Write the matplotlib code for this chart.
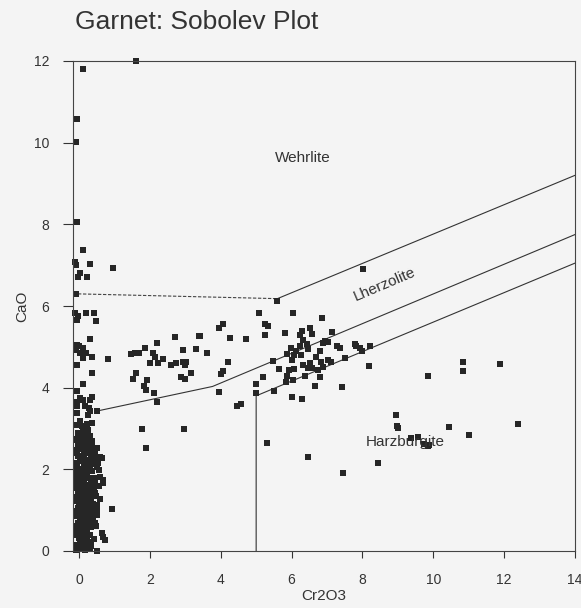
#!/usr/bin/env python3
"""Garnet Sobolev plot: CaO vs Cr2O3 with the Wehrlite / Lherzolite / Harzburgite fields."""

import matplotlib
matplotlib.use("Agg")
import matplotlib.pyplot as plt

# --- garnet analyses (Cr2O3, CaO wt%) ---
# scattered points away from the Cr-poor column
cr2o3 = [
    1.62, 0.10, -0.06, -0.08, -0.05, 0.12, -0.11, -0.08, 0.31, 0.03, -0.04, 0.23, 0.97,
    -0.08, -0.11, -0.02, 0.20, 0.43, 0.47, -0.06, 0.31, -0.06, 0.01, -0.08, 0.12, 0.20,
    0.03, 0.37, 0.83, -0.06, 0.10, 0.36, 0.12, -0.05, 0.03, -0.05, 0.12, 0.31, 0.36,
    -0.05, 0.17, 0.29, 0.31, 0.26, 0.52, -0.05, 0.03, -0.05, 0.08, 0.22, 0.36, 0.17, 0.26,
    1.46, 1.58, 1.70, 1.86, 2.19, 2.09, 2.14, 2.00, 2.23, 2.37, 2.71, 3.39, 2.61, 2.73,
    1.61, 1.53, 1.91, 1.83, 1.89, 2.12, 2.21, 1.77, 2.97, 1.89,
    5.60, 5.07, 6.05, 6.87, 4.05, 3.95, 5.26, 5.33, 3.41, 4.27, 4.71, 5.26, 5.82,
    6.53, 6.29, 6.23, 6.57, 6.32, 6.44, 6.23, 7.15, 6.95, 7.04, 6.88, 7.27, 7.37,
    7.78, 7.82, 7.92, 7.99, 8.22, 8.19, 2.93, 3.30, 3.61, 2.94, 3.03, 2.99, 3.17,
    2.89, 3.00, 4.21, 4.06, 4.02, 3.95, 4.56, 4.46, 5.31, 6.46, 7.44, 8.45, 8.95,
    8.97, 4.99, 4.99, 5.19, 5.48, 5.51, 5.64, 5.87, 5.97, 6.02, 6.08, 6.13, 5.94,
    6.06, 5.87, 5.83, 6.04, 6.27, 6.32, 6.38, 6.46, 6.53, 6.58, 6.45, 6.70, 6.79,
    6.84, 6.74, 6.88, 7.02, 7.12, 6.79, 6.65, 7.42, 7.52, 6.01, 6.30, 8.01,
    10.85, 10.83, 11.89, 9.84, 9.01, 10.45, 12.39, 11.01, 9.37, 9.56, 9.75, 9.84, 9.87,
]
cao = [
    12.00, 11.80, 10.58, 10.02, 8.05, 7.38, 7.07, 7.01, 7.03, 6.82, 6.71, 6.72, 6.93,
    6.29, 5.83, 5.76, 5.84, 5.83, 5.64, 5.66, 5.19, 5.05, 5.01, 4.93, 4.97, 4.86,
    4.84, 4.75, 4.71, 4.55, 4.72, 4.36, 4.09, 3.93, 3.74, 3.66, 3.70, 3.70, 3.78,
    3.55, 3.54, 3.50, 3.42, 3.33, 3.43, 3.37, 3.19, 3.09, 3.06, 3.11, 3.13, 2.92, 2.97,
    4.83, 4.86, 4.86, 4.98, 5.09, 4.86, 4.76, 4.60, 4.60, 4.70, 5.23, 5.27, 4.56, 4.60,
    4.37, 4.21, 4.19, 4.04, 3.95, 3.88, 3.66, 3.00, 3.00, 2.53,
    6.13, 5.83, 5.82, 5.71, 5.56, 5.47, 5.56, 5.52, 5.26, 5.21, 5.20, 5.29, 5.34,
    5.46, 5.38, 5.29, 5.31, 5.17, 5.07, 5.01, 5.36, 5.15, 5.12, 5.09, 5.02, 4.97,
    5.07, 5.01, 4.96, 4.90, 5.01, 4.52, 4.92, 4.94, 4.86, 4.64, 4.62, 4.56, 4.37,
    4.27, 4.21, 4.64, 4.42, 4.33, 3.89, 3.60, 3.55, 2.65, 2.30, 1.92, 2.16, 3.33,
    3.05, 4.09, 3.88, 4.26, 4.66, 3.93, 4.45, 4.83, 4.97, 4.68, 4.80, 4.90, 4.44,
    4.45, 4.28, 4.15, 4.19, 4.80, 4.56, 4.28, 4.48, 4.60, 4.47, 4.94, 4.76, 4.89,
    4.64, 4.44, 4.50, 4.68, 4.64, 4.26, 4.03, 4.02, 4.72, 3.78, 3.73, 6.90,
    4.63, 4.42, 4.58, 4.28, 3.02, 3.04, 3.10, 2.84, 2.76, 2.80, 2.62, 2.56, 2.60,
]

# dense Cr-poor column near Cr2O3 = 0
col_cr2o3 = [
    -0.08, 0.05, 0.18, 0.30, 0.50, -0.05, 0.10, 0.25, 0.73, 0.68, 0.42,
    0.00, 0.15, 0.30, 0.64, -0.08, 0.08, 0.20, 0.35, 0.48,
    -0.02, 0.12, 0.27, 0.40, -0.08, 0.05, 0.20, 0.33, 0.92, 0.50,
    -0.04, 0.10, 0.25, 0.40, -0.08, 0.02, 0.18, 0.32, 0.59, 0.48,
    -0.03, 0.12, 0.28, 0.42, -0.08, 0.06, 0.20, 0.36, 0.68, 0.55,
    -0.02, 0.14, 0.30, 0.59, 0.45, -0.08, 0.05, 0.22, 0.38, 0.68,
    0.00, 0.16, 0.32, 0.50, 0.54, -0.07, 0.10, 0.26, 0.42, 0.64, 0.59,
    -0.03, 0.14, 0.30, 0.46, -0.08, 0.06, 0.20, 0.31, 0.50,
    -0.02, 0.12, 0.25, 0.38, -0.08, 0.05, 0.18, 0.30,
    -0.04, 0.10, 0.17,
    0.00, 0.22, 0.12, 0.35, -0.06, 0.28, 0.04, 0.16, 0.24, -0.01, 0.08, 0.20,
    0.02, 0.14, 0.26, -0.05, 0.09, 0.18, 0.33, 0.01, 0.12, 0.22, -0.07, 0.07,
    -0.06, 0.03, 0.13, 0.23, 0.34, -0.06, 0.04, 0.14, 0.24, 0.36,
    -0.06, 0.03, 0.14, 0.23, 0.37, -0.06, 0.04, 0.15, 0.25, 0.35,
    -0.06, 0.03, 0.13, 0.24, 0.36, -0.06, 0.04, 0.14, 0.24, 0.35,
    -0.06, 0.04, 0.13, 0.23, 0.34, -0.06, 0.03, 0.14, 0.24, 0.36,
    -0.06, 0.04, 0.15, 0.25, 0.34, -0.06, 0.04, 0.14, 0.24, 0.37,
    0.45, 0.52, 0.44, 0.55, 0.46, 0.43, 0.52, 0.44,
]
col_cao = [
    0.02, 0.04, 0.03, 0.06, 0.00, 0.15, 0.18, 0.20, 0.27, 0.35, 0.30,
    0.32, 0.38, 0.40, 0.43, 0.50, 0.55, 0.50, 0.58, 0.62,
    0.68, 0.72, 0.75, 0.80, 0.85, 0.90, 0.92, 0.95, 1.03, 0.98,
    1.05, 1.10, 1.12, 1.15, 1.22, 1.28, 1.25, 1.30, 1.28, 1.35,
    1.40, 1.45, 1.42, 1.50, 1.55, 1.60, 1.58, 1.62, 1.67, 1.60,
    1.72, 1.75, 1.78, 1.82, 1.80, 1.88, 1.92, 1.90, 1.95, 1.74,
    2.02, 2.05, 2.08, 2.05, 2.15, 2.15, 2.20, 2.22, 2.25, 2.28, 2.31,
    2.32, 2.36, 2.40, 2.40, 2.48, 2.50, 2.52, 2.56, 2.52,
    2.62, 2.65, 2.68, 2.70, 2.75, 2.80, 2.78, 2.82,
    2.88, 2.92, 2.92,
    0.10, 0.12, 0.28, 0.22, 0.42, 0.66, 0.62, 0.84, 1.00, 1.18, 1.35, 1.52,
    1.68, 1.85, 1.98, 2.00, 2.30, 2.44, 2.60, 2.58, 2.74, 0.46, 1.70, 0.78,
    0.09, 0.25, 0.10, 0.30, 0.12, 0.40, 0.46, 0.28, 0.64, 0.70,
    0.62, 0.78, 0.56, 0.88, 1.00, 0.98, 1.18, 1.02, 0.88, 1.22,
    1.32, 1.36, 1.18, 1.48, 1.08, 1.66, 1.50, 1.70, 1.30, 1.44,
    1.80, 1.84, 1.96, 1.62, 1.70, 2.08, 2.26, 2.12, 1.96, 2.16,
    2.40, 2.58, 2.28, 2.46, 2.28, 2.72, 2.70, 2.56, 2.86, 2.60,
    0.68, 1.12, 1.42, 1.98, 2.14, 2.52, 0.88, 1.64,
]

# field boundaries
dashed_x = [-0.17, 5.60]
dashed_y = [6.30, 6.18]
upper_x = [5.60, 14.0]
upper_y = [6.18, 9.20]
middle_x = [0.52, 3.77, 14.0]
middle_y = [3.43, 4.03, 7.75]
lower_x = [5.00, 5.00, 14.0]
lower_y = [0.0, 3.80, 7.05]

INK = "#262626"
BG = "#f4f4f4"

plt.rcParams["font.family"] = ["Liberation Sans", "DejaVu Sans"]

fig = plt.figure(figsize=(5.81, 6.08), dpi=100, facecolor=BG)
ax = fig.add_axes([73 / 581, 1 - 551 / 608, 502 / 581, 490 / 608], facecolor=BG)

ax.plot(dashed_x, dashed_y, color="#444444", lw=0.8, ls=(0, (3, 1.5)))
ax.plot(upper_x, upper_y, color="#333333", lw=0.8)
ax.plot(middle_x, middle_y, color="#333333", lw=0.8)
ax.plot(lower_x, lower_y, color="#333333", lw=0.8)

ax.plot(col_cr2o3, col_cao, "s", color=INK, ms=4.7, mew=0, clip_on=False)
ax.plot(cr2o3, cao, "s", color=INK, ms=4.7, mew=0, clip_on=False)

ax.text(6.31, 9.63, "Wehrlite", fontsize=11, color="#333333", ha="center", va="center")
ax.text(8.62, 6.54, "Lherzolite", fontsize=11, color="#333333", ha="center",
        va="center", rotation=23)
ax.text(9.21, 2.67, "Harzburgite", fontsize=11, color="#333333", ha="center", va="center")

ax.set_xlim(-0.17, 14)
ax.set_ylim(0, 12)
ax.set_xticks(range(0, 15, 2))
ax.set_yticks(range(0, 13, 2))
ax.tick_params(axis="x", direction="out", length=5, width=0.8, pad=11,
               labelsize=10, colors="#333333")
ax.tick_params(axis="y", direction="out", length=7, width=0.8, pad=10,
               labelsize=10, colors="#333333")
for side in ax.spines.values():
    side.set_color("#444444")
    side.set_linewidth(0.8)

ax.set_xlabel("Cr2O3", fontsize=11, color="#333333", labelpad=1)
ax.set_ylabel("CaO", fontsize=11, color="#333333", labelpad=3)

fig.text(75 / 581, 1 - 22 / 608, "Garnet: Sobolev Plot", fontsize=19,
         color="#333333", ha="left", va="center")

fig.savefig("out.png", dpi=100, facecolor=BG)
